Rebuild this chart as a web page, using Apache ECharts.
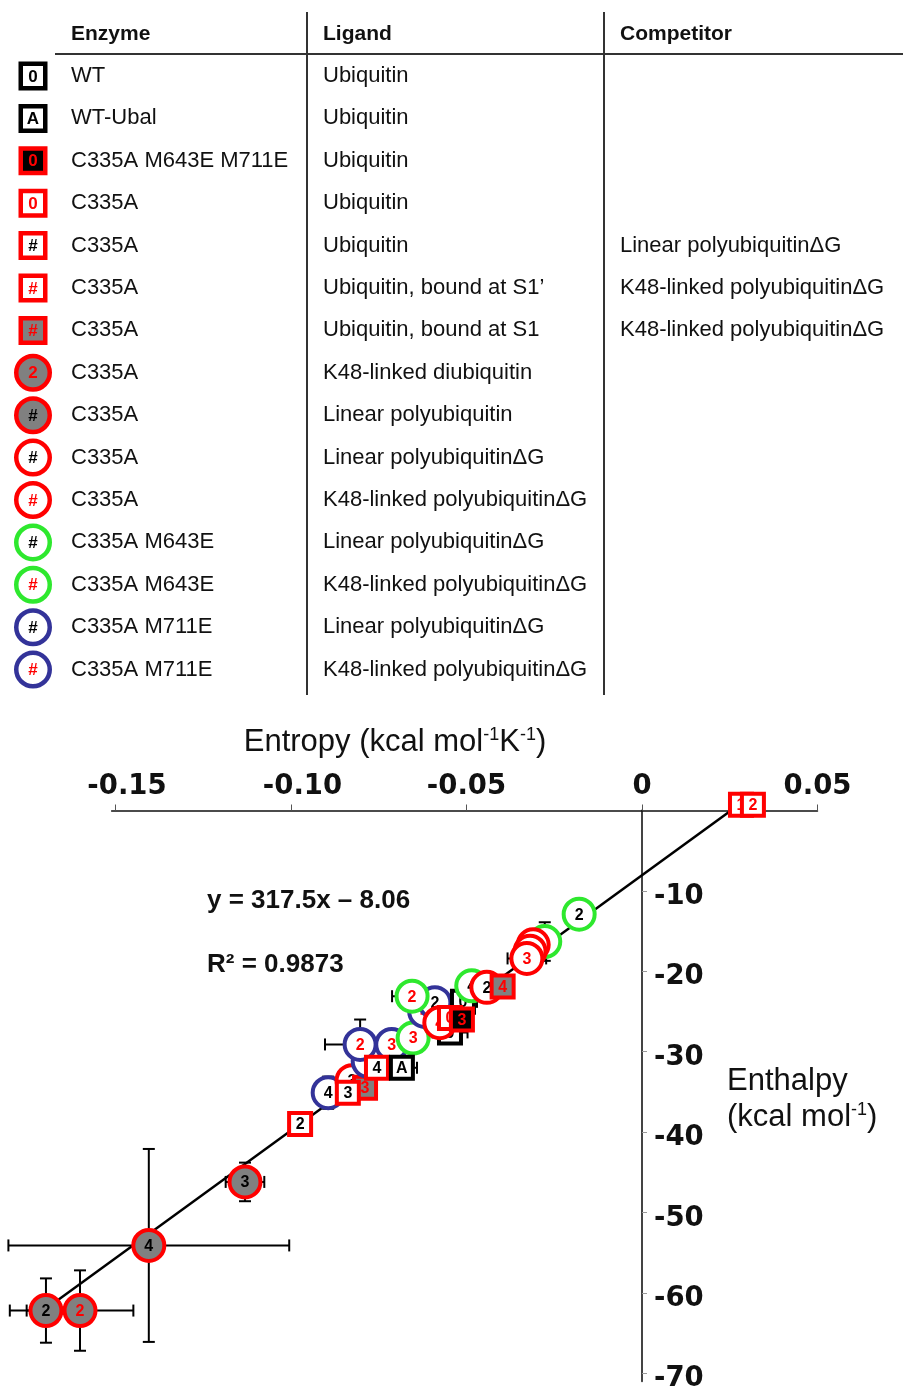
<!DOCTYPE html>
<html><head><meta charset="utf-8">
<script src="https://cdn.jsdelivr.net/npm/echarts@6/dist/echarts.min.js"></script>
<style>html,body{margin:0;padding:0;background:#fff}#c{width:903px;height:1386px}</style>
</head><body><div id="c"></div>
<script>
// ---------- table (legend) data ----------
const enzymes = ['WT','WT-Ubal','C335A M643E M711E','C335A','C335A','C335A','C335A','C335A','C335A','C335A','C335A','C335A M643E','C335A M643E','C335A M711E','C335A M711E'];
const ligands = ['Ubiquitin','Ubiquitin','Ubiquitin','Ubiquitin','Ubiquitin','Ubiquitin, bound at S1’','Ubiquitin, bound at S1','K48-linked diubiquitin','Linear polyubiquitin','Linear polyubiquitinΔG','K48-linked polyubiquitinΔG','Linear polyubiquitinΔG','K48-linked polyubiquitinΔG','Linear polyubiquitinΔG','K48-linked polyubiquitinΔG'];
const competitors = ['','','','','Linear polyubiquitinΔG','K48-linked polyubiquitinΔG','K48-linked polyubiquitinΔG','','','','','','','',''];
const legendMarks = ['0','A','0','0','#','#','#','2','#','#','#','#','#','#','#'];
const tableHeaders = ['Enzyme','Ligand','Competitor'];

// ---------- scatter data (drawing order: back to front) ----------
const pointGroup = [8,7,8,8,4,13,9,6,4,13,14,14,12,4,1,14,13,12,0,0,10,3,2,11,9,6,11,9,9,10,11,5,5];
const pointLabel = ['2','2','4','3','2','4','3','3','3','3','2','3','3','4','A','4','2','2','0','0','4','0','3','4','2','4','3','4','3','3','2','1','2'];
const entropy    = [-0.1698,-0.1601,-0.1405,-0.1131,-0.0974,-0.0894,-0.0826,-0.0789,-0.0838,-0.0780,-0.0803,-0.0713,-0.0652,-0.0755,-0.0684,-0.0619,-0.0590,-0.0655,-0.0510,-0.0547,-0.0576,-0.0547,-0.0513,-0.0485,-0.0442,-0.0397,-0.0277,-0.0310,-0.0319,-0.0328,-0.0179,0.0282,0.0316];
const enthalpy   = [-62.2,-62.2,-54.1,-46.2,-39.0,-35.1,-33.6,-34.5,-35.1,-31.2,-29.1,-29.1,-28.3,-32.0,-32.0,-25.0,-23.9,-23.1,-23.8,-27.6,-26.4,-25.8,-26.0,-21.8,-22.0,-21.9,-16.3,-16.7,-17.5,-18.4,-12.9,0.7,0.7];
const entropyErr = [0.0103,0.0152,0.0400,0.0055,0,0,0,0,0,0,0.0100,0,0,0,0.0043,0,0,0.0057,0.0040,0.0050,0,0,0,0,0,0,0,0,0,0.0055,0,0,0];
const enthalpyErr= [4.0,5.0,12.0,2.4,0,2.0,0,0,0,0,3.1,0,0,0,0,0,0,0,0,0,0,0,0,0,0,0,2.4,0,0,0,0,0,0];

// regression
const fitSlope = 317.5, fitIntercept = -8.06;
const fitText = 'y = 317.5x – 8.06', r2Text = 'R² = 0.9873';

// axis ticks
const xTickValues = [-0.15,-0.10,-0.05,0,0.05];
const xTickLabels = ['-0.15','-0.10','-0.05','0','0.05'];
const yTickValues = [-10,-20,-30,-40,-50,-60,-70];
const yTickLabels = ['-10','-20','-30','-40','-50','-60','-70'];

// ---------- styles ----------
const RED='#ff0000', GREEN='#2ee82e', BLUE='#333399', GRAY='#808080', BLACK='#000000', WHITE='#ffffff';
const markStyles = [
 {shape:'square', stroke:BLACK, fill:WHITE, text:BLACK},
 {shape:'square', stroke:BLACK, fill:WHITE, text:BLACK},
 {shape:'square', stroke:RED, fill:BLACK, text:RED},
 {shape:'square', stroke:RED, fill:WHITE, text:RED},
 {shape:'square', stroke:RED, fill:WHITE, text:BLACK},
 {shape:'square', stroke:RED, fill:WHITE, text:RED},
 {shape:'square', stroke:RED, fill:GRAY, text:RED},
 {shape:'circle', stroke:RED, fill:GRAY, text:RED},
 {shape:'circle', stroke:RED, fill:GRAY, text:BLACK},
 {shape:'circle', stroke:RED, fill:WHITE, text:BLACK},
 {shape:'circle', stroke:RED, fill:WHITE, text:RED},
 {shape:'circle', stroke:GREEN, fill:WHITE, text:BLACK},
 {shape:'circle', stroke:GREEN, fill:WHITE, text:RED},
 {shape:'circle', stroke:BLUE, fill:WHITE, text:BLACK},
 {shape:'circle', stroke:BLUE, fill:WHITE, text:RED}
];

function markElements(cx, cy, st, label, sq, circ, lw, font) {
  const els = [];
  if (st.shape === 'square') {
    const s = sq - lw;
    els.push({type:'rect', shape:{x:cx - s/2, y:cy - s/2, width:s, height:s}, style:{fill:st.fill, stroke:st.stroke, lineWidth:lw}});
  } else {
    els.push({type:'circle', shape:{cx:cx, cy:cy, r:(circ - lw)/2}, style:{fill:st.fill, stroke:st.stroke, lineWidth:lw}});
  }
  els.push({type:'text', x:cx, y:cy + 1, style:{text:label, fill:st.text, font:font, align:'center', verticalAlign:'middle'}});
  return els;
}

// ---------- table graphics ----------
const ROW0 = 76, ROWH = 42.4;
const colX = [71, 323, 620];
const FONT = '"Liberation Sans", Arial, sans-serif';
const tableFont = '22px ' + FONT;
const graphics = [];
tableHeaders.forEach((h, k) => graphics.push({type:'text', x:colX[k], y:34, style:{text:h, font:'bold 21px ' + FONT, fill:'#111', verticalAlign:'middle'}}));
graphics.push({type:'line', shape:{x1:55, y1:54, x2:903, y2:54}, style:{stroke:'#333', lineWidth:2}});
graphics.push({type:'line', shape:{x1:307, y1:12, x2:307, y2:695}, style:{stroke:'#333', lineWidth:2}});
graphics.push({type:'line', shape:{x1:604, y1:12, x2:604, y2:695}, style:{stroke:'#333', lineWidth:2}});
enzymes.forEach((e, i) => {
  const y = ROW0 + i * ROWH;
  markElements(33, y, markStyles[i], legendMarks[i], 29, 38, 4.5, 'bold 17px ' + FONT).forEach(el => graphics.push(el));
  graphics.push({type:'text', x:colX[0], y:y, style:{text:e, font:tableFont, fill:'#111', verticalAlign:'middle'}});
  graphics.push({type:'text', x:colX[1], y:y, style:{text:ligands[i], font:tableFont, fill:'#111', verticalAlign:'middle'}});
  if (competitors[i]) graphics.push({type:'text', x:colX[2], y:y, style:{text:competitors[i], font:tableFont, fill:'#111', verticalAlign:'middle'}});
});
// titles & annotations
const richTitle = {a:{font:'31px ' + FONT, fill:'#111'}, s:{font:'18px ' + FONT, fill:'#111', verticalAlign:'top'}};
graphics.push({type:'text', x:395, y:742, style:{
  text:'{a|Entropy (kcal mol}{s|-1}{a|K}{s|-1}{a|)}', align:'center', verticalAlign:'middle', rich:richTitle}});
graphics.push({type:'text', x:727, y:1081, style:{text:'Enthalpy', font:'31px ' + FONT, fill:'#111', verticalAlign:'middle'}});
graphics.push({type:'text', x:727, y:1117, style:{text:'{a|(kcal mol}{s|-1}{a|)}', verticalAlign:'middle', rich:richTitle}});
graphics.push({type:'text', x:207, y:901, style:{text:fitText, font:'bold 26px ' + FONT, fill:'#111', verticalAlign:'middle'}});
graphics.push({type:'text', x:207, y:965, style:{text:r2Text, font:'bold 26px ' + FONT, fill:'#111', verticalAlign:'middle'}});

// ---------- chart ----------
const chart = echarts.init(document.getElementById('c'), null, {renderer:'canvas'});
const X_MIN = -0.1511, X_MAX = 0.05;
const GRID_LEFT = 111.6, GRID_W = 705.9;
const zeroOffset = -GRID_W * (X_MAX - 0) / (X_MAX - X_MIN); // move right-side y axis onto x = 0
const xMinFit = Math.min(...entropy), xMaxFit = Math.min(...entropy.filter(v => v > 0));
const pts = entropy.map((x, i) => [x, enthalpy[i], pointGroup[i], i]);
const axisFont = 'DejaVu Sans';

chart.setOption({
  animation: false,
  backgroundColor: '#fff',
  grid: {left: GRID_LEFT, top: 810.5, width: GRID_W, height: 570.8, containLabel: false, outerBoundsMode: 'none'},
  xAxis: {
    type: 'value', position: 'top', min: X_MIN, max: X_MAX,
    axisLine: {onZero: false, lineStyle: {color: '#111', width: 1.5}},
    axisTick: {show: true, length: 6, lineStyle: {color: '#555', width: 1}, customValues: xTickValues},
    axisLabel: {customValues: xTickValues, margin: 10, fontFamily: axisFont, fontWeight: 'bold', fontSize: 27.5, color: '#111',
      formatter: v => {
        const k = xTickValues.findIndex(t => Math.abs(t - v) < 1e-9);
        return k < 2 ? '{sh|' + xTickLabels[k] + '}' : xTickLabels[k];
      },
      rich: {sh: {padding: [0, 0, 0, 23], fontFamily: axisFont, fontWeight: 'bold', fontSize: 27.5, color: '#111'}}},
    splitLine: {show: false}
  },
  yAxis: {
    type: 'value', position: 'right', offset: zeroOffset, min: -71, max: 0,
    axisLine: {onZero: false, lineStyle: {color: '#444', width: 2}},
    axisTick: {show: true, length: 5, lineStyle: {color: '#999', width: 1}, customValues: yTickValues},
    axisLabel: {customValues: yTickValues, margin: 12, fontFamily: axisFont, fontWeight: 'bold', fontSize: 27.5, color: '#111',
      formatter: v => '{v|' + yTickLabels[yTickValues.findIndex(t => Math.abs(t - v) < 1e-9)] + '}',
      rich: {v: {padding: [12, 0, 0, 0], fontFamily: axisFont, fontWeight: 'bold', fontSize: 27.5, color: '#111'}}},
    splitLine: {show: false}
  },
  graphic: graphics,
  series: [
    {type: 'custom', clip: false, z: 2, data: [[xMinFit, fitSlope * xMinFit + fitIntercept, xMaxFit, fitSlope * xMaxFit + fitIntercept]],
     renderItem: (params, api) => {
       const a = api.coord([api.value(0), api.value(1)]), b = api.coord([api.value(2), api.value(3)]);
       return {type:'line', shape:{x1:a[0], y1:a[1], x2:b[0], y2:b[1]}, style:{stroke:'#000', lineWidth:2.5}};
     }},
    {type: 'custom', clip: false, z: 3, data: pts,
     renderItem: (params, api) => {
       const i = api.value(3);
       const x = api.value(0), y = api.value(1);
       const ex = entropyErr[i], ey = enthalpyErr[i];
       const children = [];
       const cap = 6;
       const ls = {stroke: '#000', lineWidth: 2};
       if (ex > 0) {
         const a = api.coord([x - ex, y]), b = api.coord([x + ex, y]);
         children.push({type:'line', shape:{x1:a[0], y1:a[1], x2:b[0], y2:b[1]}, style:ls});
         children.push({type:'line', shape:{x1:a[0], y1:a[1]-cap, x2:a[0], y2:a[1]+cap}, style:ls});
         children.push({type:'line', shape:{x1:b[0], y1:b[1]-cap, x2:b[0], y2:b[1]+cap}, style:ls});
       }
       if (ey > 0) {
         const a = api.coord([x, y - ey]), b = api.coord([x, y + ey]);
         children.push({type:'line', shape:{x1:a[0], y1:a[1], x2:b[0], y2:b[1]}, style:ls});
         children.push({type:'line', shape:{x1:a[0]-cap, y1:a[1], x2:a[0]+cap, y2:a[1]}, style:ls});
         children.push({type:'line', shape:{x1:b[0]-cap, y1:b[1], x2:b[0]+cap, y2:b[1]}, style:ls});
       }
       return {type:'group', children: children};
     }},
    {type: 'custom', clip: false, z: 4, data: pts,
     renderItem: (params, api) => {
       const i = api.value(3);
       const p = api.coord([api.value(0), api.value(1)]);
       const st = markStyles[api.value(2)];
       return {type:'group', children: markElements(p[0], p[1], st, pointLabel[i], 26, 35, 4, 'bold 16px ' + FONT)};
     }}
  ]
});
</script></body></html>
